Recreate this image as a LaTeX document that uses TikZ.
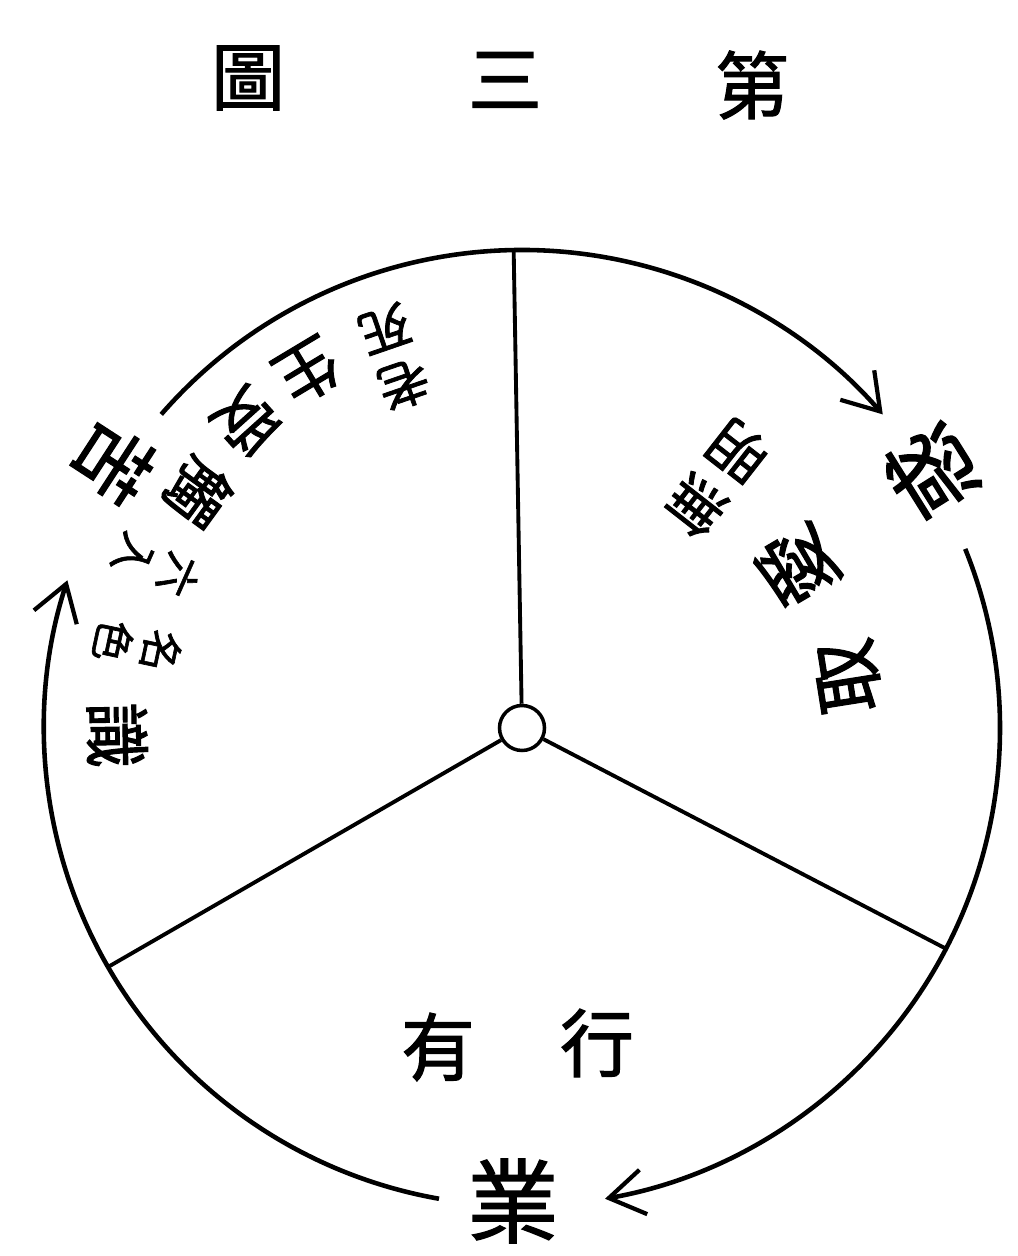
\documentclass[tikz,border=0pt]{standalone}
\usepackage{fontspec}
\usepackage{tikz}
\usetikzlibrary{arrows.meta}
\newfontfamily\hanzi{Noto Sans CJK TC}[FakeBold=1.5]
\tikzset{
  zi/.style={inner sep=0pt, font=\hanzi\fontsize{#1}{#1}\selectfont},
  zi/.default=40,
  rim/.style={line width=2.6pt},
  flow/.style={rim, -{Straight Barb[length=7mm,width=9mm,line width=2.4pt]}},
  spoke/.style={line width=2.2pt}
}
\newcommand{\ringzi}[5]{%
  \node[zi=#5, rotate=#2+90] (#1) at ([shift={(#2:#3)}]hub.center) {#4};}
\newcommand{\ringpair}[5]{%
  \node[zi=#5, rotate=#2+90, align=center] (#1) at ([shift={(#2:#3)}]hub.center) {#4};}
\newcommand{\rimpoint}[2]{%
  \coordinate (#1) at ([shift={(#2:95.6mm)}]hub.center);}

\begin{document}
\begin{tikzpicture}[x=0.2mm, y=0.2mm]
  \useasboundingbox (0,0) rectangle (1017,1256);
  \node[zi=42] (tu)  at (248,1178) {圖};
  \node[zi=42] (san) at (505,1176) {三};
  \node[zi=42] (di)  at (752,1171) {第};

  \node[circle, draw, line width=2pt, minimum size=9mm, inner sep=0pt] (hub) at (522,528) {};
  \rimpoint{rimN}{91}
  \rimpoint{rimSW}{210}
  \rimpoint{rimSE}{332.5}
  \draw[spoke] (hub) -- (rimN);
  \draw[spoke] (hub) -- (rimSW);
  \draw[spoke] (hub) -- (rimSE);

  \ringzi{huo}{32}{482}{惑}{50}
  \ringzi{ku}{147}{487}{苦}{44}
  \node[zi=52] (ye) at (513,55) {業};

  \rimpoint{topA}{139}
  \rimpoint{rightA}{22}
  \rimpoint{leftA}{260}
  \draw[flow] (topA) arc[start angle=139, end angle=41, radius=95.6mm];
  \draw[flow] (rightA) arc[start angle=22, end angle=-80, radius=95.6mm];
  \draw[flow] (leftA) arc[start angle=260, end angle=162, radius=95.6mm];

  \ringzi{shi}{181}{405}{識}{38}
  \ringpair{mingse}{168}{393}{名\\[4pt]色}{24}
  \ringpair{liuru}{156}{400}{六\\[4pt]入}{24}
  \ringzi{chu}{144}{400}{觸}{36}
  \ringzi{shou}{132}{412}{受}{36}
  \ringzi{sheng}{121}{416}{生}{36}
  \ringpair{laosi}{109}{392}{老\\[4pt]死}{29}

  \ringpair{wuming}{52}{316}{無\\[6pt]明}{33}
  \ringzi{ai}{30.5}{319}{愛}{44}
  \ringzi{qu}{9}{330}{取}{42}

  \node[zi=42] (you)  at (438,209) {有};
  \node[zi=42] (xing) at (597,213) {行};
\end{tikzpicture}
\end{document}
